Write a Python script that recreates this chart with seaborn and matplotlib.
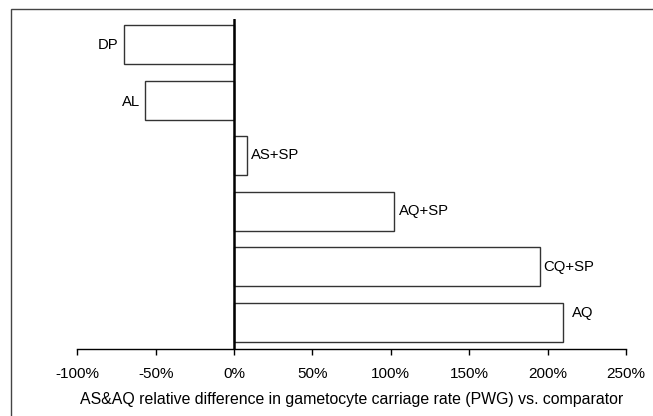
import matplotlib
matplotlib.use("Agg")
import matplotlib.pyplot as plt
import matplotlib.patches as mpatches
from matplotlib.ticker import PercentFormatter
import seaborn as sns
import pandas as pd

drugs = ["DP", "AL", "AS+SP", "AQ+SP", "CQ+SP", "AQ"]
rel_diff = [-0.70, -0.57, 0.085, 1.02, 1.95, 2.10]

# hand placed label nudges (x in data units, y in category units)
label_dx = [0.038, 0.032, 0.022, 0.030, 0.019, 0.058]
label_dy = [0.0, 0.03, -0.02, 0.0, 0.0, -0.16]

df = pd.DataFrame({"drug": drugs, "diff": rel_diff})

sns.set_style("white")
plt.rcParams["font.family"] = ["Liberation Sans", "DejaVu Sans"]
plt.rcParams["axes.unicode_minus"] = False
plt.rcParams["text.color"] = "black"
plt.rcParams["axes.labelcolor"] = "black"

fig = plt.figure(figsize=(6.53, 4.16), dpi=100)
ax = fig.add_axes([0.1184, 0.1603, 0.8403, 0.7937])

sns.barplot(data=df, x="diff", y="drug", orient="h", color="white",
            edgecolor="#333333", linewidth=1.0, width=0.70, ax=ax)

# labels next to the bar ends
for i, (name, val) in enumerate(zip(drugs, rel_diff)):
    if val < 0:
        ax.text(val - label_dx[i], i + label_dy[i], name, ha="right",
                va="center", fontsize=10.7, color="black")
    else:
        ax.text(val + label_dx[i], i + label_dy[i], name, ha="left",
                va="center", fontsize=10.7, color="black")

ax.axvline(0, color="black", linewidth=1.8, zorder=5)

ax.set_xlim(-1.0, 2.5)
ax.set_ylim(5.49, -0.46)
ax.set_xticks([-1.0, -0.5, 0, 0.5, 1.0, 1.5, 2.0, 2.5])
ax.xaxis.set_major_formatter(PercentFormatter(1.0, decimals=0))
ax.tick_params(axis="x", direction="out", length=4, width=1, pad=9,
               labelsize=11, bottom=True, colors="black")
ax.set_yticks([])
ax.set_ylabel("")
ax.set_xlabel("AS&AQ relative difference in gametocyte carriage rate (PWG) vs. comparator",
              fontsize=11.4, labelpad=8, color="black")

for s in ["top", "right", "left"]:
    ax.spines[s].set_visible(False)
ax.spines["bottom"].set_color("black")
ax.spines["bottom"].set_linewidth(1.0)

# outer frame, cut off at right and bottom edges
frame = mpatches.Rectangle((11 / 653, -0.05), 1.1, (416 - 9) / 416 + 0.05,
                           transform=fig.transFigure, fill=False,
                           edgecolor="#444444", linewidth=1.0)
fig.patches.append(frame)

fig.savefig("out.png", dpi=100)
